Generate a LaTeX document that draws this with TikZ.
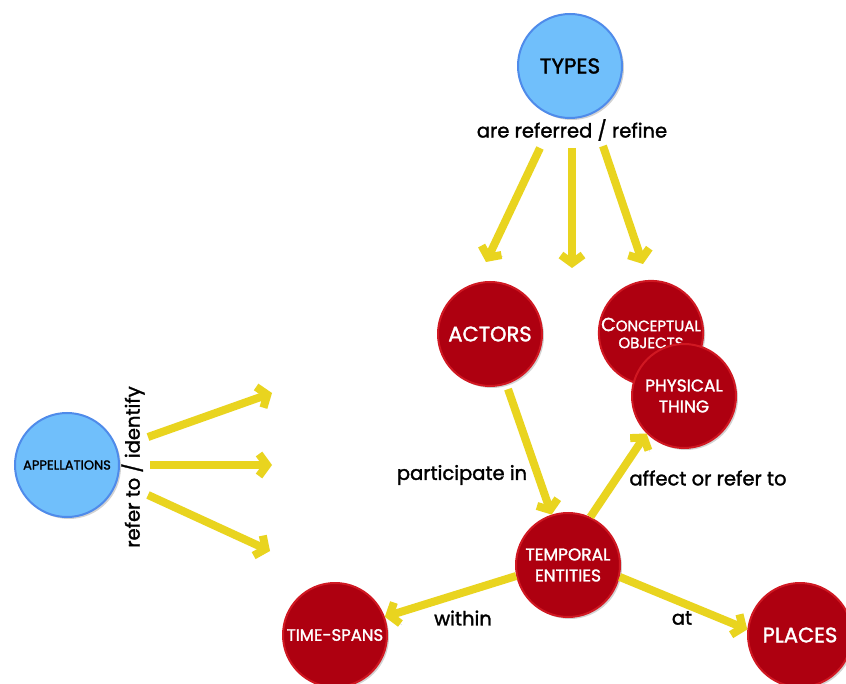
\documentclass[tikz,border=0pt]{standalone}
\usepackage{fontspec}
\setmainfont[FakeBold=1.6]{Poppins}
\usetikzlibrary{arrows.meta,shadows}
\definecolor{cblue}{HTML}{70BFFB}
\definecolor{cblueb}{HTML}{4F8BEA}
\definecolor{cred}{HTML}{AE0010}
\definecolor{credb}{HTML}{D01822}
\definecolor{cyel}{HTML}{E9D41F}
\begin{document}
\begin{tikzpicture}[x=1pt,y=-1pt,
  circ/.style={circle,line width=2pt,minimum size=104pt,inner sep=0pt,align=center,
    drop shadow={opacity=0.35,shadow xshift=2pt,shadow yshift=-2pt}},
  bluec/.style={circ,fill=cblue,draw=cblueb,text=black},
  redc/.style={circ,fill=cred,draw=credb,text=white},
  yarrow/.style={draw=cyel,line width=8pt,-{Straight Barb[length=8pt,width=22pt]},
    preaction={draw=black,opacity=0.15,transform canvas={shift={(1.5pt,-1.5pt)}}}},
  lbl/.style={font=\fontsize{19.5}{21}\selectfont,text=black,inner sep=1pt}]
\useasboundingbox (0,0) rectangle (846,684);
\fill[white] (0,0) rectangle (846,684);

% arrows from TYPES
\coordinate (ta1) at (540,148); \coordinate (tb1) at (486,262);
\coordinate (ta2) at (572,148); \coordinate (tb2) at (572,268);
\coordinate (ta3) at (603,146); \coordinate (tb3) at (643,264);
% arrows from APPELLATIONS
\coordinate (aa1) at (148,437); \coordinate (ab1) at (272,393);
\coordinate (aa2) at (150,465); \coordinate (ab2) at (272,465);
\coordinate (aa3) at (148,495); \coordinate (ab3) at (270,551);

\node[bluec,font=\fontsize{21.5}{23}\selectfont] (types) at (570,66) {TYPES};
\node[bluec,font=\fontsize{13}{15}\selectfont] (appell) at (67,465) {APPELLATIONS};
\node[redc,font=\fontsize{21}{23}\selectfont] (actors) at (490,334) {ACTORS};
\node[redc,font=\fontsize{15}{18}\selectfont] (concept) at (651,333) {{\fontsize{19}{19}\selectfont C}ONCEPTUAL\\[-1pt]OBJECTS};
\node[redc,font=\fontsize{17}{21}\selectfont] (physical) at (684,396) {PHYSICAL\\THING};
\node[redc,font=\fontsize{17}{21}\selectfont] (temporal) at (568,565) {TEMPORAL\\ENTITIES};
\node[redc,font=\fontsize{16.5}{18}\selectfont] (timespans) at (335,635) {TIME-SPANS};
\node[redc,font=\fontsize{21}{23}\selectfont] (places) at (800,635) {PLACES};

\node[lbl] (lref) at (572,130) {are referred / refine};
\node[lbl,rotate=90] (lid) at (133,467) {refer to / identify};
\node[lbl] (lpart) at (462,475) {participate in};
\node[lbl] (laff) at (708,478) {affect or refer to};
\node[lbl] (lwith) at (463,618) {within};
\node[lbl] (lat) at (682,618) {at};

\draw[yarrow] (ta1) -- (tb1);
\draw[yarrow] (ta2) -- (tb2);
\draw[yarrow] (ta3) -- (tb3);
\draw[yarrow] (aa1) -- (ab1);
\draw[yarrow] (aa2) -- (ab2);
\draw[yarrow] (aa3) -- (ab3);
\draw[yarrow,shorten <=5pt] (actors.-72) -- (temporal.108);
\draw[yarrow] (temporal.65) -- (physical.225);
\draw[yarrow] (temporal.192) -- (timespans.20);
\draw[yarrow] (temporal.-13) -- (places.174);
\end{tikzpicture}
\end{document}
